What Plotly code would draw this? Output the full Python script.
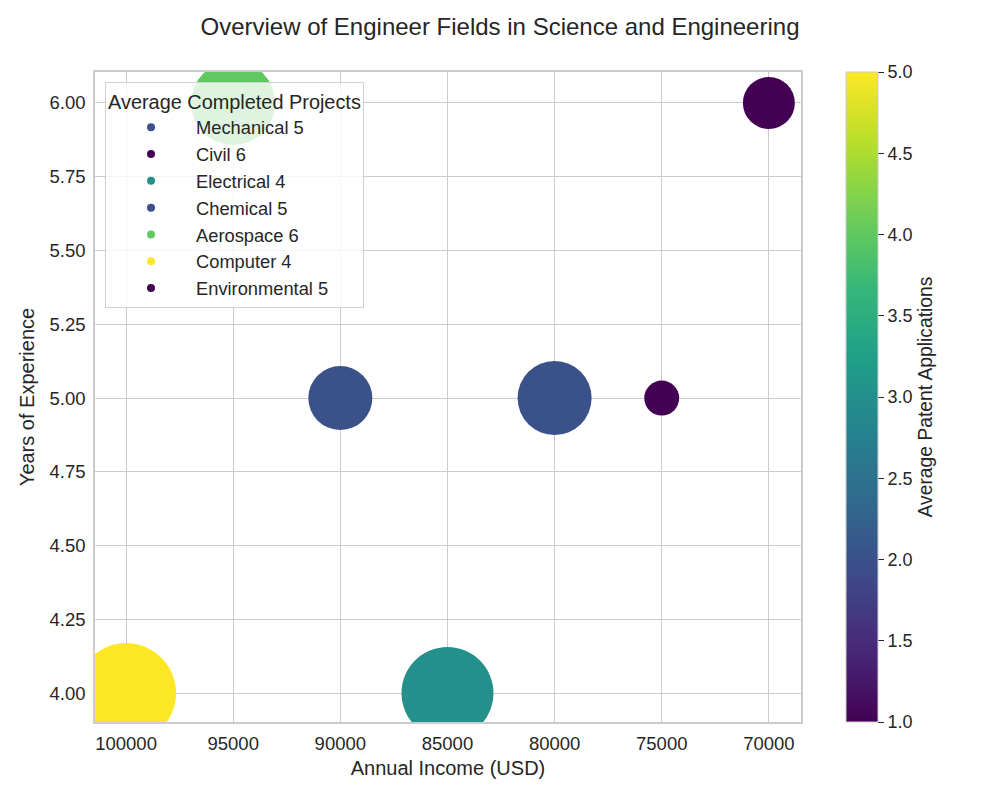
import plotly.graph_objects as go

# ---- data ----
fields = ["Mechanical", "Civil", "Electrical", "Chemical", "Aerospace", "Computer", "Environmental"]
annual_income = [80000, 70000, 85000, 90000, 95000, 100000, 75000]
years_experience = [5, 6, 4, 5, 6, 4, 5]
completed_projects = [5, 6, 4, 5, 6, 4, 5]
patent_applications = [2, 1, 3, 2, 4, 5, 1]
bubble_size = [2740, 1350, 4230, 2050, 3530, 5000, 610]

FONT = "Liberation Sans, Arial, sans-serif"
TXT = "#262626"
GRID = "#cccccc"

fig = go.Figure()

fig.add_trace(go.Scatter(
    x=annual_income, y=years_experience, mode="markers",
    marker=dict(size=bubble_size, sizemode="area", sizeref=1,
                color=patent_applications, colorscale="Viridis", cmin=1, cmax=5,
                line=dict(width=0), opacity=1,
                colorbar=dict(
                    title=dict(text="Average Patent Applications", side="right",
                               font=dict(size=19.3, color=TXT, family=FONT)),
                    thickness=32, thicknessmode="pixels",
                    len=650, lenmode="pixels",
                    x=1.0637, xanchor="left", xpad=0,
                    y=0.5, yanchor="middle", ypad=0,
                    tickmode="linear", tick0=1, dtick=0.5, tickformat=".1f",
                    ticks="outside", ticklen=6, tickcolor=TXT,
                    tickfont=dict(size=18, color=TXT, family=FONT),
                    outlinecolor=GRID, outlinewidth=1,
                )),
    showlegend=False, hoverinfo="skip",
))

# legend entries
for f, cp, pa in zip(fields, completed_projects, patent_applications):
    fig.add_trace(go.Scatter(
        x=[None], y=[None], mode="markers", name=f"{f} {cp}",
        marker=dict(size=8, color=[pa], colorscale="Viridis", cmin=1, cmax=5,
                    line=dict(width=0)),
        showlegend=True,
    ))

fig.update_layout(
    width=1000, height=800,
    margin=dict(l=95, r=199, t=72, b=78),
    paper_bgcolor="white", plot_bgcolor="white",
    font=dict(family=FONT, color=TXT),
    title=dict(text="Overview of Engineer Fields in Science and Engineering",
               x=0.5, xanchor="center", y=1 - 27 / 800, yanchor="middle",
               yref="container", xref="container",
               font=dict(size=24, color=TXT, family=FONT)),
    xaxis=dict(range=[101450, 68500], tickmode="linear", tick0=70000, dtick=5000,
               tickformat="d", showgrid=True, gridcolor=GRID, gridwidth=1,
               zeroline=False, showline=True, linecolor=GRID, linewidth=1.5, mirror=True,
               ticks="", tickfont=dict(size=18.5, color=TXT), ticklabelstandoff=4,
               title=dict(text="Annual Income (USD)", font=dict(size=20, color=TXT), standoff=8)),
    yaxis=dict(range=[3.902, 6.105], tickmode="linear", tick0=4, dtick=0.25,
               tickformat=".2f", showgrid=True, gridcolor=GRID, gridwidth=1,
               zeroline=False, showline=True, linecolor=GRID, linewidth=1.5, mirror=True,
               ticks="", tickfont=dict(size=18.5, color=TXT), ticklabelstandoff=4,
               title=dict(text="Years of Experience", font=dict(size=20, color=TXT), standoff=10)),
    legend=dict(
        title=dict(text="Average Completed Projects", font=dict(size=19.9, color=TXT)),
        x=0.0142, y=0.9846, xanchor="left", yanchor="top",
        bgcolor="rgba(255,255,255,0.8)", bordercolor="#d0d0d0", borderwidth=1,
        font=dict(size=18.3, color=TXT), itemwidth=80, tracegroupgap=0,
    ),
)

fig.write_html("out.html")
